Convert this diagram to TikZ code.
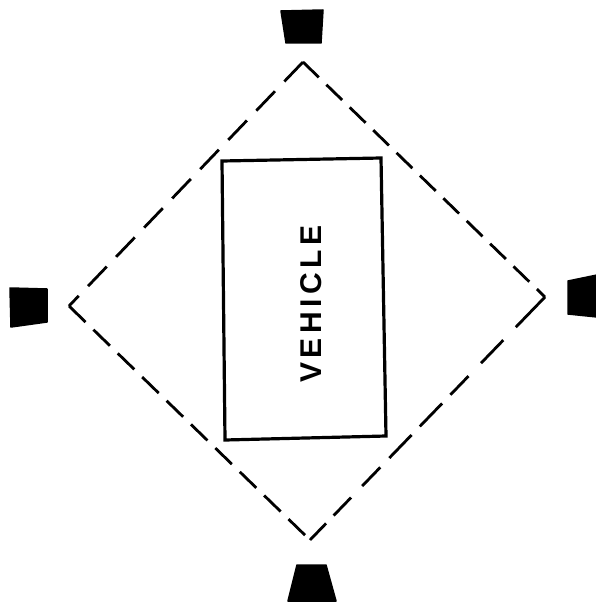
\documentclass[tikz,border=0pt]{standalone}
\usepackage{fontspec}
\setmainfont{Liberation Sans}
\begin{document}
\begin{tikzpicture}[x=1pt, y=-1pt,
        lamp/.style={fill=black, draw=black, line width=1.5pt, line join=round},
        zone/.style={line width=2.8pt},
        body/.style={draw, line width=3.2pt, line join=miter}
    ]
        \useasboundingbox (0,0) rectangle (596,602);
        % lamps
        \fill[lamp] (281,11) -- (323,10) -- (321,43) -- (286,43) -- cycle;
        \fill[lamp] (10,288) -- (47,289) -- (47,322) -- (11,327) -- cycle;
        \fill[lamp] (568,281) -- (597,275) -- (597,317) -- (568,314) -- cycle;
        \fill[lamp] (297,565) -- (326,565) -- (336,601) -- (288,601) -- cycle;
        % dashed zone
        \coordinate (top) at (303,62);
        \coordinate (rgt) at (545,297);
        \coordinate (bot) at (310,540);
        \coordinate (lft) at (69,306);
        \draw[zone, dash pattern=on 22pt off 10.6pt] (top) -- (rgt);
        \draw[zone, dash pattern=on 42pt off 18pt on 32pt off 18pt on 26pt off 12pt on 32pt off 12pt on 32pt off 13pt on 26pt off 16pt on 25pt off 11pt on 40pt off 40pt] (rgt) -- (bot);
        \draw[zone, dash pattern=on 23pt off 11pt] (lft) -- (bot);
        \draw[zone, dash pattern=on 27pt off 13.5pt] (top) -- (lft);
        % vehicle
        \draw[body] (222,161) -- (381,158) -- (386,436) -- (225,440) -- cycle;
        \node[rotate=90, font=\fontsize{30}{30}\selectfont\bfseries\addfontfeature{LetterSpace=15}, inner sep=0pt] (veh) at (311,304) {VEHICLE};
    \end{tikzpicture}
\end{document}
